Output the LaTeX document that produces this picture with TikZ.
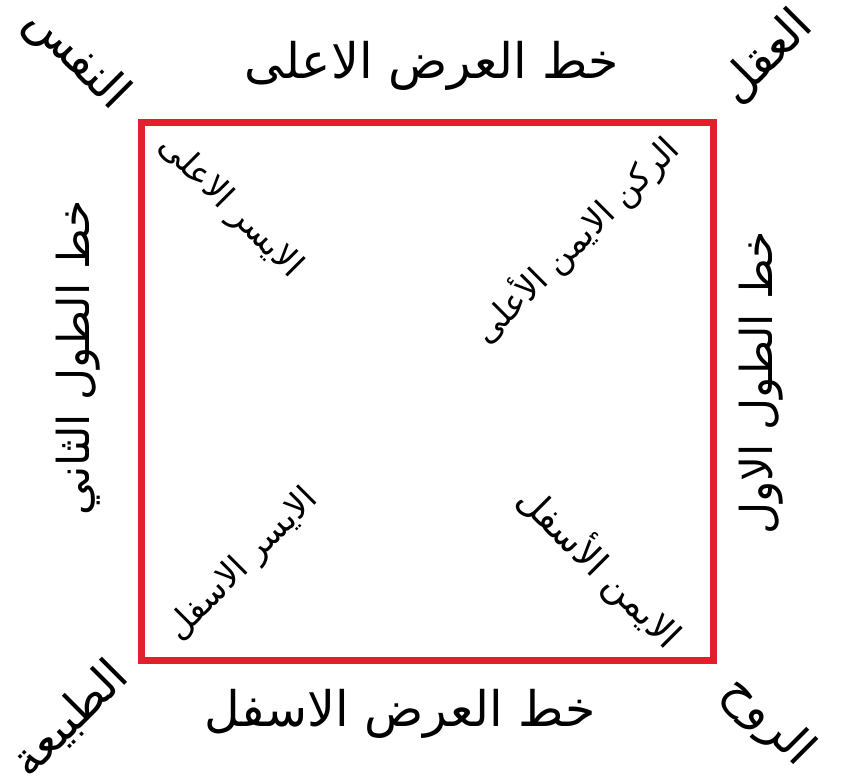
\documentclass[tikz,border=0pt]{standalone}
\usepackage{fontspec}
\newfontfamily\arabicfont[Script=Arabic]{DejaVu Sans}
\TeXXeTstate=1
\definecolor{boxred}{RGB}{228,30,45}
\tikzset{
  big/.style={font=\arabicfont\fontsize{49}{56}\selectfont, inner sep=0pt},
  side/.style={font=\arabicfont\fontsize{44}{50}\selectfont, inner sep=0pt},
  corner/.style={font=\arabicfont\fontsize{47}{54}\selectfont, inner sep=0pt},
  inner/.style={font=\arabicfont\fontsize{34}{40}\selectfont, inner sep=0pt},
}
\begin{document}
\begin{tikzpicture}[x=1pt,y=-1pt]
\useasboundingbox[fill=white] (0,0) rectangle (843,781);
\node[draw=boxred, line width=7pt, minimum width=572pt, minimum height=537pt, inner sep=0pt] (box) at (427,391.5) {};
% sides
\node[big] (top) at (432,66) {\beginR خط العرض الاعلى\endR};
\node[big] (bottom) at (400,714) {\beginR خط العرض الاسفل\endR};
\node[side, rotate=90] (left) at (78,358) {\beginR خط الطول الثاني\endR};
\node[side, rotate=90] (right) at (761,383) {\beginR خط الطول الاول\endR};
% corners
\node[corner, rotate=-45] (nafs) at (76,59) {\beginR النفس\endR};
\node[corner, rotate=45] (aql) at (766,57) {\beginR العقل\endR};
\node[corner, rotate=45] (tabia) at (70,719) {\beginR الطبيعة\endR};
\node[corner, rotate=-45] (ruh) at (768,722) {\beginR الروح\endR};
% inner
\node[inner, rotate=-45] (tl) at (230,207) {\beginR الايسر الاعلى\endR};
\node[inner, rotate=45] (tr) at (576,240) {\beginR الركن الايمن الأعلى\endR};
\node[inner, rotate=45] (bl) at (243,565) {\beginR الايسر الاسفل\endR};
\node[inner, rotate=-45, font=\arabicfont\fontsize{37}{42}\selectfont] (br) at (600,567) {\beginR الايمن الأسفل\endR};
\end{tikzpicture}
\end{document}
